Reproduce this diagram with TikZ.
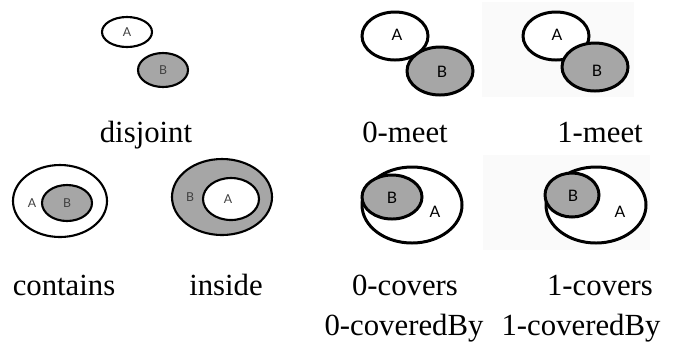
\documentclass[tikz,border=0pt]{standalone}
\usepackage{fontspec}
\setmainfont{Liberation Serif}
\newfontfamily\letterfont{Lato}
\definecolor{regiongray}{HTML}{A6A6A6}
\definecolor{paleback}{HTML}{FAFAFA}
\begin{document}
\begin{tikzpicture}[x=0.02cm, y=-0.02cm,
    outline/.style={draw=black, line width=1.7pt},
    thinline/.style={draw=black, line width=1.2pt},
    caption/.style={anchor=base, inner sep=0pt, font=\fontsize{17.5}{20}\selectfont},
    letter/.style={inner sep=0pt, font=\letterfont\fontsize{9}{10}\selectfont},
    smallletter/.style={inner sep=0pt, text=black!75, font=\letterfont\fontsize{7}{8}\selectfont}]
  \useasboundingbox (0,0) rectangle (682,343);
  % pale backgrounds behind the 1- cases
  \fill[paleback] (482,2) rectangle (634,97);
  \fill[paleback] (483,155) rectangle (650,250);

  % disjoint
  \draw[thinline, fill=white] (127,32) ellipse [x radius=25, y radius=15];
  \draw[thinline, fill=regiongray] (163,70) ellipse [x radius=25, y radius=17];
  \node [smallletter] (dA) at (127,32) {A};
  \node [smallletter] (dB) at (163,70) {B};
  \node [caption] (disjoint) at (146,142) {disjoint};

  % 0-meet
  \draw[outline, fill=white] (395,36) ellipse [x radius=33, y radius=24];
  \draw[outline, fill=regiongray] (440,71) ellipse [x radius=33, y radius=24];
  \node [letter] (mA) at (397,35) {A};
  \node [letter] (mB) at (442,72) {B};
  \node [caption] (meet0) at (405,142) {0-meet};

  % 1-meet
  \draw[outline, fill=white] (556,36) ellipse [x radius=33, y radius=24];
  \draw[outline, fill=regiongray] (595,67) ellipse [x radius=33, y radius=24];
  \node [letter] (nA) at (557,35) {A};
  \node [letter] (nB) at (597,71) {B};
  \node [caption] (meet1) at (600,142) {1-meet};

  % contains
  \draw[thinline, fill=white] (60,201) ellipse [x radius=47, y radius=36];
  \draw[thinline, fill=regiongray] (67,203) ellipse [x radius=25, y radius=18];
  \node [smallletter] (cA) at (32,203) {A};
  \node [smallletter] (cB) at (67,203) {B};
  \node [caption] (contains) at (64,295) {contains};

  % inside
  \draw[thinline, fill=regiongray] (222,197) ellipse [x radius=50, y radius=38];
  \draw[thinline, fill=white] (231,199) ellipse [x radius=28, y radius=21];
  \node [smallletter] (iB) at (190,197) {B};
  \node [smallletter] (iA) at (228,199) {A};
  \node [caption] (inside) at (226,295) {inside};

  % 0-covers
  \draw[outline, fill=white] (412,205) ellipse [x radius=50, y radius=38];
  \draw[outline, fill=regiongray] (392,197) ellipse [x radius=30, y radius=22];
  \node [letter] (vB) at (392,198) {B};
  \node [letter] (vA) at (435,212) {A};
  \node [caption] (covers0) at (405,295) {0-covers};
  \node [caption] (coveredby0) at (404,335) {0-coveredBy};

  % 1-covers
  \draw[outline, fill=white] (596,205) ellipse [x radius=50, y radius=38];
  \draw[outline, fill=regiongray] (572,195) ellipse [x radius=27, y radius=22];
  \node [letter] (wB) at (573,196) {B};
  \node [letter] (wA) at (620,212) {A};
  \node [caption] (covers1) at (600,295) {1-covers};
  \node [caption] (coveredby1) at (581,335) {1-coveredBy};
\end{tikzpicture}
\end{document}
